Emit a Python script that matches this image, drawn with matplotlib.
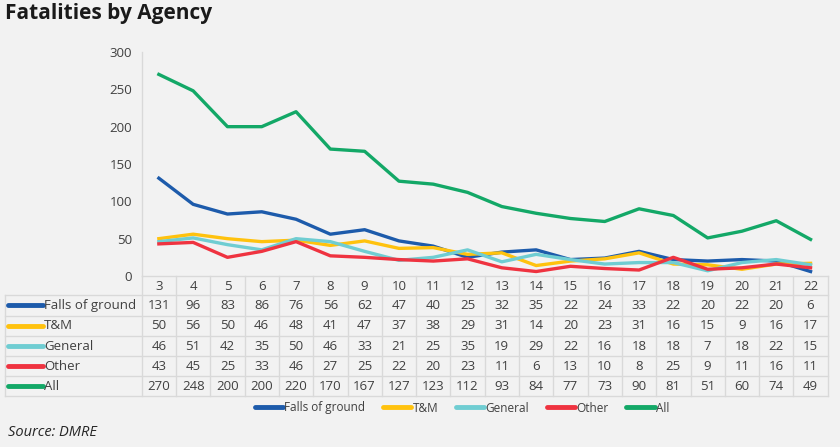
import matplotlib
matplotlib.use("Agg")
import matplotlib.pyplot as plt
from matplotlib.lines import Line2D
import matplotlib.transforms as mtransforms

categories = ["3", "4", "5", "6", "7", "8", "9", "10", "11", "12", "13", "14", "15", "16", "17", "18", "19", "20", "21", "22"]
falls = [131, 96, 83, 86, 76, 56, 62, 47, 40, 25, 32, 35, 22, 24, 33, 22, 20, 22, 20, 6]
tm = [50, 56, 50, 46, 48, 41, 47, 37, 38, 29, 31, 14, 20, 23, 31, 16, 15, 9, 16, 17]
general = [46, 51, 42, 35, 50, 46, 33, 21, 25, 35, 19, 29, 22, 16, 18, 18, 7, 18, 22, 15]
other = [43, 45, 25, 33, 46, 27, 25, 22, 20, 23, 11, 6, 13, 10, 8, 25, 9, 11, 16, 11]
all_ = [270, 248, 200, 200, 220, 170, 167, 127, 123, 112, 93, 84, 77, 73, 90, 81, 51, 60, 74, 49]

series_names = ["Falls of ground", "T&M", "General", "Other", "All"]
series_values = [falls, tm, general, other, all_]
colors = ["#1d5bab", "#ffc20e", "#6fcdd2", "#ef3340", "#13a867"]

W, H = 840, 447
BG = "#f2f2f2"
GRID = "#d9d9d9"
TXT = "#404040"
plt.rcParams['font.family'] = ['Open Sans', 'DejaVu Sans']

fig = plt.figure(figsize=(W / 100, H / 100), dpi=100, facecolor=BG)

ax_l, ax_r, ax_t, ax_b = 141.7, 827.7, 52, 276
ax = fig.add_axes([ax_l / W, 1 - ax_b / H, (ax_r - ax_l) / W, (ax_b - ax_t) / H])
ax.set_facecolor(BG)

n = len(categories)
xs = list(range(n))
for vals, c, name in zip(series_values, colors, series_names):
    ax.plot(xs, vals, color=c, lw=2.4, label=name, solid_joinstyle='round')

ax.set_xlim(-0.5, n - 0.5)
ax.set_ylim(0, 300)
ax.set_yticks([0, 50, 100, 150, 200, 250, 300])
ax.tick_params(axis='y', length=0, pad=7, labelsize=9.5, labelcolor=TXT)
ax.set_xticks([])
for s in ["top", "right", "bottom"]:
    ax.spines[s].set_visible(False)
ax.spines["left"].set_color(GRID)
ax.spines["left"].set_linewidth(1)

def fy(py):
    return 1 - py / H

def fx(px):
    return px / W

col_w = (ax_r - ax_l) / n
row_edges = [276, 295, 315.5, 336, 356, 376, 396]
left_px = 5

fig.add_artist(Line2D([fx(ax_l), fx(ax_r)], [fy(276), fy(276)], color=GRID, lw=1))
for py in row_edges[1:]:
    fig.add_artist(Line2D([fx(left_px), fx(ax_r)], [fy(py), fy(py)], color=GRID, lw=1))
fig.add_artist(Line2D([fx(left_px), fx(left_px)], [fy(295), fy(396)], color=GRID, lw=1))
for k in range(n + 1):
    px = ax_l + k * col_w
    fig.add_artist(Line2D([fx(px), fx(px)], [fy(276), fy(396)], color=GRID, lw=1))

blend = mtransforms.blended_transform_factory(ax.transData, fig.transFigure)
for k, cat in enumerate(categories):
    ax.text(k, fy(286), cat, transform=blend, ha='center', va='center',
            fontsize=9.5, color=TXT)

for r, (name, vals, c) in enumerate(zip(series_names, series_values, colors)):
    yc = (row_edges[r + 1] + row_edges[r + 2]) / 2
    fig.add_artist(Line2D([fx(8), fx(43)], [fy(yc), fy(yc)], color=c, lw=3.5,
                          solid_capstyle='round'))
    fig.text(fx(44), fy(yc), name, ha='left', va='center', fontsize=9.5, color=TXT)
    for k, v in enumerate(vals):
        ax.text(k, fy(yc), str(v), transform=blend, ha='center', va='center',
                fontsize=9.5, color=TXT)

handles = [Line2D([0], [0], color=c, lw=3.5, solid_capstyle='round') for c in colors]
fig.legend(handles, series_names, loc='center', bbox_to_anchor=(fx(462), fy(408)),
           ncol=5, frameon=False, fontsize=8.5, handlelength=2.4, handletextpad=0.1,
           columnspacing=1.5, labelcolor=TXT)

fig.text(fx(5), fy(14), "Fatalities by Agency", ha='left', va='center',
         fontsize=15, fontweight='bold', color="#1a1a1a")
fig.text(fx(8), fy(433), "Source: DMRE", ha='left', va='center',
         fontsize=10.5, style='italic', color="#262626")

fig.savefig("out.png", dpi=100, facecolor=BG)
